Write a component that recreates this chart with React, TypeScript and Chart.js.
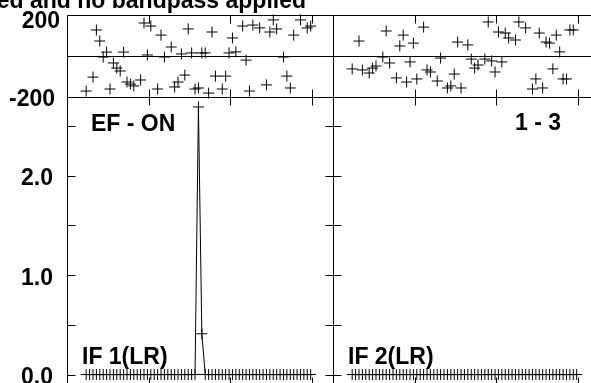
import React, { useEffect, useRef } from "react";
import { Chart, registerables } from "chart.js";

Chart.register(...registerables);

// ---- texts ----
const TITLE = "ed and no bandpass applied";
const SOURCE_LABEL = "EF - ON";
const BASELINE_LABEL = "1 - 3";
const PANEL_LABELS = ["IF 1(LR)", "IF 2(LR)"];

// ---- data ----
// sample times (seconds from panel start)
const TIME_SEC = [
  141, 166, 191, 216, 241, 266, 291, 316, 341, 366, 391, 416, 441, 466, 491, 516, 541,
  566, 591, 616, 641, 666, 691, 716, 741, 766, 791, 816, 841, 866, 891, 916, 941, 966,
  991, 1016, 1041, 1066, 1091, 1116, 1141, 1166, 1191, 1216, 1241, 1266, 1291, 1316,
  1341, 1366, 1391, 1416, 1441, 1466, 1491, 1516, 1541, 1566, 1591, 1616, 1641, 1666,
  1691, 1716, 1741, 1766, 1791,
];

// phase (degrees) IF 1, IF 2
const PHASE_IF1: (number | null)[] = [
  -171, null, -103, 127, 73, -5, 19, -161, -34, -59, -73, 19, -127, -137, -146, null, -117,
  161, 5, 146, null, -161, 102, -5, null, 44, -151, -127, 10, -93, 132, 15, -161, -156,
  15, 15, -181, 117, -98, null, -161, -98, 15, 88, 20, null, 146, -20, -171, 151, null,
  137, null, -141, 117, 176, 132, null, -5, -98, -156, 102, null, 176, null, 137, 146,
];
const PHASE_IF2: (number | null)[] = [
  -63, null, 73, -68, null, -83, -59, -49, null, -5, 122, -34, null, -107, 49, 102, -127,
  -29, 63, -112, null, 141, -68, -78, null, -122, -10, null, -156, -146, -88, 68, -156,
  null, 54, -15, -59, -44, null, -15, 166, -24, -78, 117, -29, 112, 88, null, 78, 166,
  null, 137, null, -161, -112, 112, -156, 68, 63, -63, 102, 20, -112, -112, 127, 127, null,
];

// amplitude IF 1, IF 2
const AMP_IF1 = [
  0, 0, 0, 0, 0, 0, 0, 0, 0, 0, 0, 0, 0, 0, 0, 0, 0, 0, 0, 0, 0, 0, 0, 0, 0, 0, 0, 0, 0, 0,
  0, 0, 0, 2.69, 0.41, 0, 0, 0, 0, 0, 0, 0, 0, 0, 0, 0, 0, 0, 0, 0, 0, 0, 0, 0, 0, 0, 0, 0,
  0, 0, 0, 0, 0, 0, 0, 0, 0,
];
const AMP_IF2 = [
  0, 0, 0, 0, 0, 0, 0, 0, 0, 0, 0, 0, 0, 0, 0, 0, 0, 0, 0, 0, 0, 0, 0, 0, 0, 0, 0, 0, 0, 0,
  0, 0, 0, 0, 0, 0, 0, 0, 0, 0, 0, 0, 0, 0, 0, 0, 0, 0, 0, 0, 0, 0, 0, 0, 0, 0, 0, 0, 0, 0,
  0, 0, 0, 0, 0, 0, 0,
];

// ---- ticks ----
const TIME_TICKS = [600, 1200, 1800];
const PHASE_TICK_VALUES = [200, -200];
const PHASE_TICK_LABELS = ["200", "-200"];
const AMP_TICK_VALUES = [0, 1, 2];
const AMP_TICK_LABELS = ["0.0", "1.0", "2.0"];
const AMP_MINOR_TICKS = [0.5, 1.5, 2.5];

const FONT = 'bold 23px "Liberation Sans", Arial, sans-serif';
const TICK = 8;

const pts = (vals: (number | null)[]) => TIME_SEC.map((t, i) => ({ x: t, y: vals[i] }));

const framePlugin = {
  id: "aipsFrame",
  beforeDatasetsDraw(chart: any) {
    const ctx = chart.ctx;
    const { xL, xR, yPh, yAmp } = chart.scales;
    const px = (v: number) => Math.round(v) + 0.5;
    ctx.save();
    ctx.strokeStyle = "#000";
    ctx.lineWidth = 1;
    ctx.beginPath();
    const L = px(xL.left);
    const R = px(xR.right);
    const T = px(yPh.top);
    const B = px(yAmp.bottom);
    for (const y of [yPh.top, yPh.getPixelForValue(0), yPh.bottom, yAmp.bottom]) {
      ctx.moveTo(L, px(y));
      ctx.lineTo(R, px(y));
    }
    for (const sx of [xL, xR]) {
      for (const x of [sx.left, sx.right]) {
        ctx.moveTo(px(x), T);
        ctx.lineTo(px(x), B);
      }
      for (const t of TIME_TICKS) {
        const x = px(sx.getPixelForValue(t));
        for (const ys of [yPh, yAmp]) {
          ctx.moveTo(x, px(ys.top));
          ctx.lineTo(x, px(ys.top) + TICK);
          ctx.moveTo(x, px(ys.bottom));
          ctx.lineTo(x, px(ys.bottom) - TICK);
        }
      }
      for (const v of [...AMP_TICK_VALUES, ...AMP_MINOR_TICKS]) {
        const y = px(yAmp.getPixelForValue(v));
        ctx.moveTo(px(sx.left), y);
        ctx.lineTo(px(sx.left) + TICK, y);
        ctx.moveTo(px(sx.right), y);
        ctx.lineTo(px(sx.right) - TICK, y);
      }
    }
    ctx.stroke();
    ctx.restore();
  },
  afterDraw(chart: any) {
    const ctx = chart.ctx;
    const { xL, xR, yPh, yAmp } = chart.scales;
    ctx.save();
    ctx.fillStyle = "#000";
    ctx.font = FONT;
    ctx.textBaseline = "alphabetic";
    // title (cropped at the left edge)
    ctx.textAlign = "right";
    ctx.fillText(TITLE, 306, 7.5);
    // phase labels
    const phaseX = [60, 55];
    const phaseDy = [12.5, 9];
    PHASE_TICK_VALUES.forEach((v, i) => {
      ctx.fillText(PHASE_TICK_LABELS[i], phaseX[i], yPh.getPixelForValue(v) + phaseDy[i]);
    });
    AMP_TICK_VALUES.forEach((v, i) => {
      ctx.fillText(AMP_TICK_LABELS[i], 53, yAmp.getPixelForValue(v) + 9.5);
    });
    // panel annotations
    ctx.fillText(BASELINE_LABEL, xR.right - 38, yAmp.top + 32.5);
    ctx.textAlign = "left";
    ctx.fillText(SOURCE_LABEL, xL.left + 24, yAmp.top + 33.5);
    const zeroY = yAmp.getPixelForValue(0);
    ctx.fillText(PANEL_LABELS[0], xL.left + 15, zeroY - 10.5);
    ctx.fillText(PANEL_LABELS[1], xR.left + 15, zeroY - 10.5);
    ctx.restore();
  },
};

export default function App() {
  const ref = useRef<HTMLCanvasElement | null>(null);
  useEffect(() => {
    if (!ref.current) return;
    const marker = {
      pointStyle: "cross" as const,
      pointRadius: 5.5,
      pointBorderWidth: 1,
      pointBorderColor: "#000",
      pointBackgroundColor: "#000",
      borderColor: "#000",
      borderWidth: 1,
      clip: false as const,
    };
    const chart = new Chart(ref.current, {
      type: "scatter",
      data: {
        datasets: [
          { ...marker, label: "phase IF1", data: pts(PHASE_IF1), xAxisID: "xL", yAxisID: "yPh", showLine: false },
          { ...marker, label: "phase IF2", data: pts(PHASE_IF2), xAxisID: "xR", yAxisID: "yPh", showLine: false },
          { ...marker, label: "amp IF1", data: pts(AMP_IF1), xAxisID: "xL", yAxisID: "yAmp", showLine: true, tension: 0 },
          { ...marker, label: "amp IF2", data: pts(AMP_IF2), xAxisID: "xR", yAxisID: "yAmp", showLine: true, tension: 0 },
        ],
      },
      options: {
        responsive: false,
        maintainAspectRatio: false,
        devicePixelRatio: 1,
        animation: false,
        events: [],
        layout: { padding: { left: 67, top: 15, right: 21, bottom: 15 } },
        plugins: { legend: { display: false }, tooltip: { enabled: false } },
        scales: {
          xL: { type: "linear", position: "bottom", stack: "x", stackWeight: 1, min: 0, max: 1955, display: false },
          xR: { type: "linear", position: "bottom", stack: "x", stackWeight: 1, min: 0, max: 1955, display: false },
          // left-side stacked axes are placed in reverse order: the last one goes on top
          yAmp: { type: "linear", position: "left", stack: "y", stackWeight: 288, min: -0.105, max: 2.79, display: false },
          yPh: { type: "linear", position: "left", stack: "y", stackWeight: 82, min: -200, max: 200, display: false },
        },
      } as any,
      plugins: [framePlugin],
    });
    return () => chart.destroy();
  }, []);
  return (
    <div
      style={{
        position: "fixed",
        left: 0,
        top: 0,
        width: 591,
        height: 383,
        overflow: "hidden",
        background: "#fff",
      }}
    >
      <canvas ref={ref} width={620} height={400} style={{ display: "block", width: 620, height: 400 }} />
    </div>
  );
}
